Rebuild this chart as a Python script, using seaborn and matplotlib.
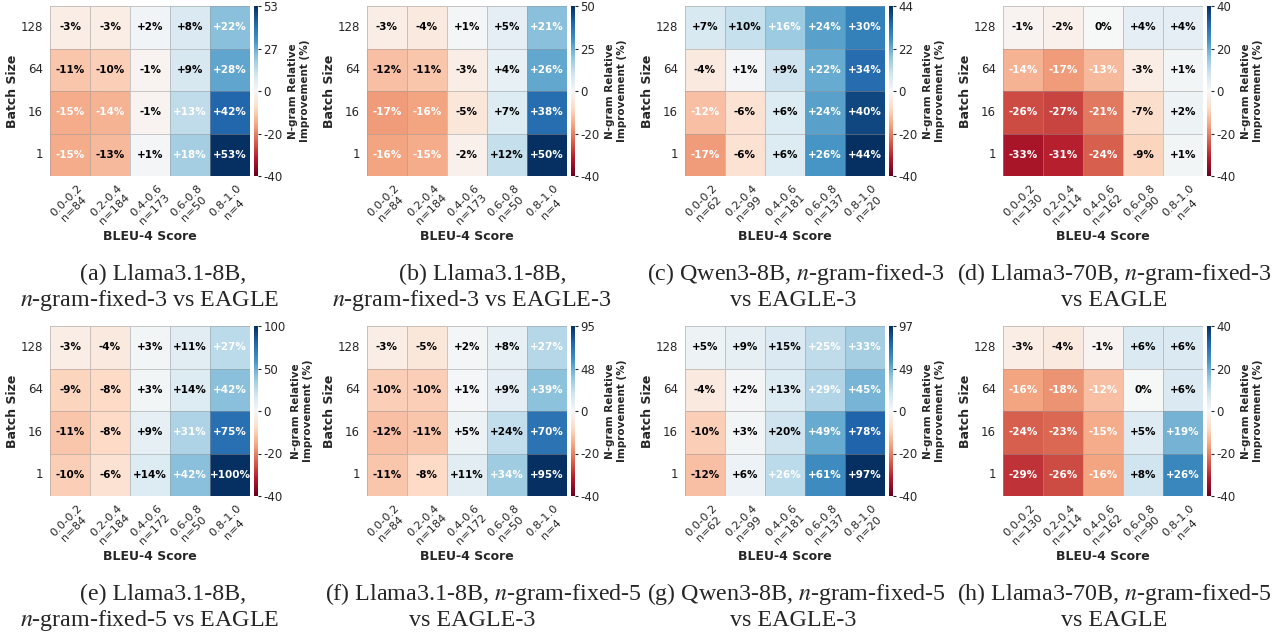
import numpy as np
import matplotlib
matplotlib.use("Agg")
import matplotlib.pyplot as plt
from matplotlib.colors import TwoSlopeNorm
import seaborn as sns

# axis categories
batch_sizes = ["128", "64", "16", "1"]
bleu_bins = ["0.0-0.2", "0.2-0.4", "0.4-0.6", "0.6-0.8", "0.8-1.0"]

# number of samples in each BLEU bin
n_llama31_fixed3 = [84, 184, 173, 50, 4]
n_llama31_fixed5 = [84, 184, 172, 50, 4]
n_qwen3 = [62, 99, 181, 137, 20]
n_llama3_70b = [130, 114, 162, 90, 4]

# n-gram relative improvement (%), rows = batch size 128, 64, 16, 1
imp_a = [[-3, -3, 2, 8, 22],
         [-11, -10, -1, 9, 28],
         [-15, -14, -1, 13.4, 42],
         [-15, -13, 1, 18, 53]]
imp_b = [[-3, -4, 1, 5, 21],
         [-12, -11, -3, 4, 26],
         [-17, -16, -5, 7, 38],
         [-16, -15, -2, 12, 50]]
imp_c = [[7, 10, 16, 24, 30],
         [-4, 1, 9, 22, 34],
         [-12, -6, 6, 24, 40],
         [-17, -6, 6, 26, 44]]
imp_d = [[-1, -2, 0, 4, 4],
         [-14, -17, -13, -3, 1],
         [-26, -27, -21, -7, 2],
         [-33, -31, -24, -9, 1]]
imp_e = [[-3, -4, 3, 11, 27],
         [-9, -8, 3, 14, 42],
         [-11, -8, 9, 31, 75],
         [-10, -6, 14, 42, 100]]
imp_f = [[-3, -5, 2, 8, 27],
         [-10, -10, 1, 9, 39],
         [-12, -11, 5, 23.6, 70],
         [-11, -8, 11, 34, 95]]
imp_g = [[5, 9, 15, 25, 33],
         [-4, 2, 13, 29, 45],
         [-10, 3, 20, 49, 78],
         [-12, 6, 26, 61, 97]]
imp_h = [[-3, -4, -1, 6, 6],
         [-16, -18, -12, 0, 6],
         [-24, -23, -15, 5, 19],
         [-29, -26, -16, 8, 26]]

captions = [
    ("(a) Llama3.1-8B,", "$n$-gram-fixed-3 vs EAGLE"),
    ("(b) Llama3.1-8B,", "$n$-gram-fixed-3 vs EAGLE-3"),
    ("(c) Qwen3-8B, $n$-gram-fixed-3", "vs EAGLE-3"),
    ("(d) Llama3-70B, $n$-gram-fixed-3", "vs EAGLE"),
    ("(e) Llama3.1-8B,", "$n$-gram-fixed-5 vs EAGLE"),
    ("(f) Llama3.1-8B, $n$-gram-fixed-5", "vs EAGLE-3"),
    ("(g) Qwen3-8B, $n$-gram-fixed-5", "vs EAGLE-3"),
    ("(h) Llama3-70B, $n$-gram-fixed-5", "vs EAGLE"),
]

panels = [
    (imp_a, n_llama31_fixed3), (imp_b, n_llama31_fixed3),
    (imp_c, n_qwen3), (imp_d, n_llama3_70b),
    (imp_e, n_llama31_fixed5), (imp_f, n_llama31_fixed5),
    (imp_g, n_qwen3), (imp_h, n_llama3_70b),
]

sns.set_style("white")
plt.rcParams["font.family"] = ["DejaVu Sans"]
plt.rcParams["mathtext.fontset"] = "stix"

W, H = 1276, 633
fig = plt.figure(figsize=(W / 100, H / 100), dpi=100)

# layout in pixels
col_left = [50, 367, 685, 1003]
row_top = [6, 326]
cap_x = [(163, 150), (483, 472), (796, 793), (1114, 1114)]
cap_y = [(280, 306), (600, 626)]
hm_w, hm_h = 200, 170


def px_axes(x, y, w, h):
    return fig.add_axes([x / W, 1 - (y + h) / H, w / W, h / H])


for i, (vals, counts) in enumerate(panels):
    r, c = divmod(i, 4)
    x0, y0 = col_left[c], row_top[r]
    ax = px_axes(x0, y0, hm_w, hm_h)
    cax = px_axes(x0 + hm_w + 3.5, y0, 4.5, hm_h)

    data = np.array(vals, dtype=float)
    vmax = max(40, data.max())
    norm = TwoSlopeNorm(vmin=-40, vcenter=0, vmax=vmax)
    labels = np.array([["0%" if round(v) == 0 else f"{v:+.0f}%" for v in row]
                       for row in data])
    xlabels = [f"{b}\nn={n}" for b, n in zip(bleu_bins, counts)]

    sns.heatmap(data, ax=ax, cbar_ax=cax, cmap="RdBu", norm=norm,
                annot=labels, fmt="",
                annot_kws={"fontsize": 7.5, "fontweight": "bold"},
                linewidths=0.6, linecolor=(0.6, 0.6, 0.6, 0.5),
                xticklabels=xlabels, yticklabels=batch_sizes)

    # white text on strong colours, black otherwise
    for t, v in zip(ax.texts, data.flatten()):
        t.set_color("white" if abs(v) > 0.25 * vmax else "black")

    ax.tick_params(axis="both", length=3, width=0.8, color="#333333", pad=2)
    ax.set_yticklabels(batch_sizes, rotation=0, fontsize=8.5)
    ax.set_xticklabels(xlabels, rotation=45, ha="center", fontsize=8.2)
    ax.set_ylabel("Batch Size", fontsize=9, fontweight="bold", labelpad=1)
    ax.set_xlabel("BLEU-4 Score", fontsize=9, fontweight="bold", labelpad=2)

    cb = ax.collections[0].colorbar
    cb.set_ticks([-40, -20, 0, vmax / 2, vmax])
    cb.set_ticklabels(["-40", "-20", "0", str(int(np.floor(vmax / 2 + 0.5))),
                       f"{vmax:.0f}"])
    cb.ax.tick_params(labelsize=8.5, length=2.5, pad=1.5)
    cb.outline.set_linewidth(0)
    cb.set_label("N-gram Relative\nImprovement (%)", fontsize=7.5,
                 fontweight="bold", labelpad=4)

    for txt, xx, yy in zip(captions[i], cap_x[c], cap_y[r]):
        fig.text(xx / W, 1 - yy / H, txt, ha="center", va="baseline",
                 fontsize=17.3, family="Liberation Serif")

fig.savefig("out.png", dpi=100)
